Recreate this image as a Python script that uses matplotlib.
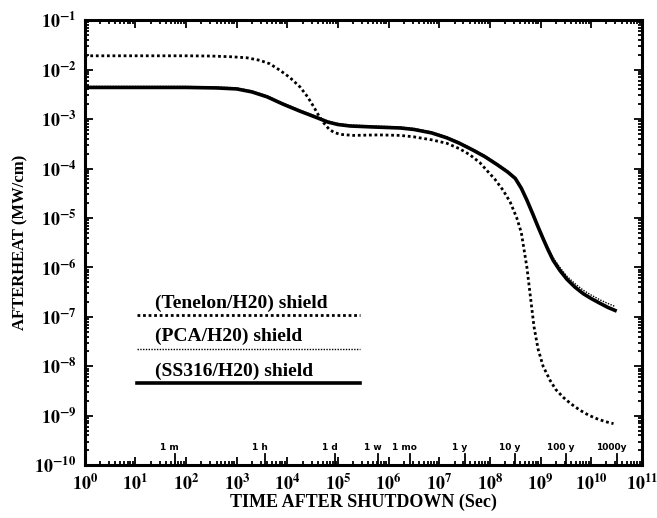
import numpy as np
import matplotlib
matplotlib.use('Agg')
import matplotlib.pyplot as plt
import matplotlib.ticker as ticker
import matplotlib.transforms as mtransforms

plt.rcParams['font.family'] = 'serif'
plt.rcParams['font.serif'] = ['Liberation Serif', 'DejaVu Serif']
plt.rcParams['mathtext.fontset'] = 'stix'

# values: log10(time in s), log10(afterheat in MW/cm)
tenelon_logt = [0, 1, 2, 2.5, 2.9, 3.2, 3.45, 3.65, 3.85, 4.05, 4.25, 4.4, 4.52,
                4.62, 4.72, 4.82, 4.92, 5.05, 5.3, 5.8, 6.23, 6.5, 6.85, 7.15,
                7.4, 7.6, 7.8, 7.94, 8.1, 8.26, 8.4, 8.53, 8.62, 8.73, 8.8,
                8.87, 8.95, 9.05, 9.19, 9.3, 9.45, 9.6, 9.78, 9.95, 10.11,
                10.28, 10.44]
tenelon_logq = [-1.72, -1.72, -1.72, -1.725, -1.74, -1.76, -1.81, -1.88, -2.01,
                -2.16, -2.35, -2.55, -2.75, -2.93, -3.08, -3.2, -3.27, -3.31,
                -3.33, -3.32, -3.33, -3.36, -3.42, -3.49, -3.6, -3.72, -3.88,
                -4.04, -4.22, -4.44, -4.68, -5.0, -5.3, -6.0, -6.6, -7.2, -7.65,
                -8.0, -8.29, -8.47, -8.63, -8.76, -8.89, -8.99, -9.06, -9.12,
                -9.16]

ss316_logt = [0, 2, 2.6, 3.0, 3.3, 3.6, 3.92, 4.25, 4.58, 4.8, 5.0, 5.24, 5.7,
              6.23, 6.5, 6.85, 7.15, 7.4, 7.67, 7.9, 8.14, 8.35, 8.5, 8.62,
              8.73, 8.85, 8.95, 9.05, 9.15, 9.25, 9.38, 9.52, 9.68, 9.84, 10.0,
              10.18, 10.33, 10.47]
ss316_logq = [-2.36, -2.36, -2.37, -2.39, -2.45, -2.55, -2.7, -2.84, -2.97,
              -3.06, -3.11, -3.14, -3.16, -3.18, -3.21, -3.28, -3.38, -3.49,
              -3.63, -3.76, -3.92, -4.07, -4.2, -4.4, -4.64, -4.93, -5.18,
              -5.42, -5.65, -5.86, -6.06, -6.24, -6.4, -6.53, -6.63, -6.73,
              -6.81, -6.87]

pca_logt = ss316_logt
pca_logq = [-2.34, -2.34, -2.35, -2.37, -2.43, -2.53, -2.68, -2.82, -2.95,
            -3.04, -3.09, -3.12, -3.14, -3.16, -3.19, -3.26, -3.36, -3.47,
            -3.61, -3.74, -3.9, -4.05, -4.19, -4.39, -4.63, -4.92, -5.16,
            -5.39, -5.61, -5.81, -6.0, -6.18, -6.33, -6.46, -6.56, -6.66,
            -6.73, -6.79]

marker_times = [60, 3600, 86400, 604800, 2.592e6, 3.156e7, 3.156e8, 3.156e9, 3.156e10]
marker_labels = ['1 m', '1 h', '1 d', '1 w', '1 mo', '1 y', '10 y', '100 y', '1000y']

legend_labels = ['(Tenelon/H20) shield', '(PCA/H20) shield', '(SS316/H20) shield']

fig = plt.figure(figsize=(6.57, 5.18), dpi=100)
ax = fig.add_axes([0.129, 0.102, 0.848, 0.859])

ten_style = dict(color='black', lw=2.0, ls=(0, (1.0, 1.0)))
pca_style = dict(color='black', lw=1.0, ls=(0, (1.0, 1.0)))
ss_style = dict(color='black', lw=2.6, ls='-')

ax.plot(10 ** np.array(tenelon_logt), 10 ** np.array(tenelon_logq), **ten_style)
ax.plot(10 ** np.array(ss316_logt), 10 ** np.array(ss316_logq), **ss_style)
ax.plot(10 ** np.array(pca_logt), 10 ** np.array(pca_logq), **pca_style)

ax.set_xscale('log')
ax.set_yscale('log')
ax.set_xlim(1, 1e11)
ax.set_ylim(1e-10, 1e-1)

ax.xaxis.set_major_locator(ticker.LogLocator(base=10, numticks=20))
ax.yaxis.set_major_locator(ticker.LogLocator(base=10, numticks=20))
ax.xaxis.set_minor_locator(ticker.LogLocator(base=10, subs=np.arange(2, 10), numticks=20))
ax.yaxis.set_minor_locator(ticker.LogLocator(base=10, subs=np.arange(2, 10), numticks=20))
fmt = ticker.FuncFormatter(lambda v, p: r'$\mathbf{10^{%d}}$' % round(np.log10(v)))
ax.xaxis.set_major_formatter(fmt)
ax.yaxis.set_major_formatter(fmt)
ax.xaxis.set_minor_formatter(ticker.NullFormatter())
ax.yaxis.set_minor_formatter(ticker.NullFormatter())

ax.tick_params(which='both', direction='in', top=True, right=True, width=1.3)
ax.tick_params(which='major', length=6, labelsize=13, pad=6)
ax.tick_params(which='minor', length=3)
for s in ax.spines.values():
    s.set_linewidth(2.2)

# legend drawn inside the axes
line_x = [0.093, 0.494]
line_y = [0.337, 0.261, 0.184]
for lab, yy, st in zip(legend_labels, line_y, [ten_style, pca_style, ss_style]):
    ax.plot(line_x, [yy, yy], transform=ax.transAxes, **st)
    ax.text(0.126, yy + 0.008, lab, transform=ax.transAxes, fontsize=14,
            fontweight='bold', ha='left', va='bottom')

# time markers along the bottom
trans = mtransforms.blended_transform_factory(ax.transData, ax.transAxes)
for t, lab in zip(marker_times, marker_labels):
    ax.plot([t, t], [0, 0.024], transform=trans, color='black', lw=1.3)
    ax.text(t * 10 ** -0.1, 0.03, lab, transform=trans, fontsize=6.5,
            fontweight='bold', family='DejaVu Sans', ha='center', va='bottom')

ax.set_xlabel('TIME AFTER SHUTDOWN (Sec)', fontsize=13, fontweight='bold', labelpad=0)
ax.set_ylabel('AFTERHEAT (MW/cm)', fontsize=12, fontweight='bold', labelpad=4)

fig.savefig('out.png', dpi=100)
